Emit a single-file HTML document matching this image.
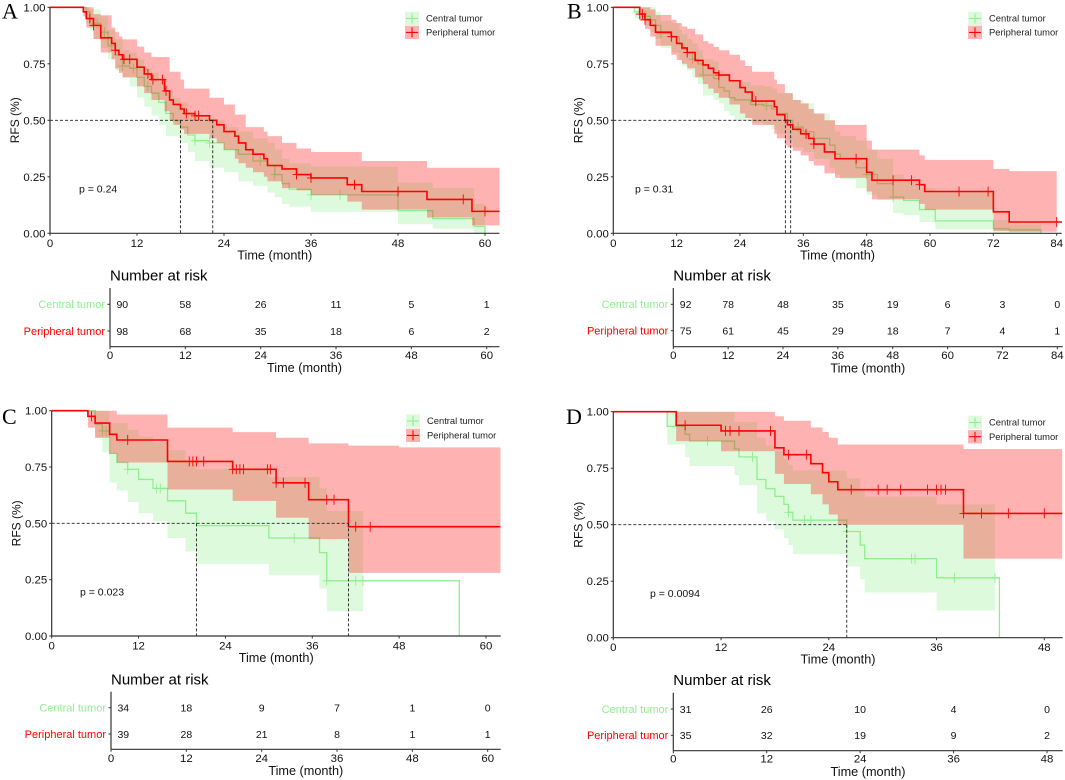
<!DOCTYPE html>
<html lang="en">
<head>
<meta charset="utf-8">
<title>Kaplan-Meier RFS curves</title>
<style>
html,body{margin:0;padding:0;background:#fff;width:1065px;height:780px;overflow:hidden}
svg{display:block;filter:blur(0.3px)}
text{font-family:"Liberation Sans",sans-serif}
</style>
</head>
<body>
<svg id="fig" xmlns="http://www.w3.org/2000/svg" width="1065" height="780" viewBox="0 0 1065 780"></svg>
<script>
// ---------- shared tick data ----------
const yTicks = [0, 0.25, 0.5, 0.75, 1];
const yTickLabels = ['0.00', '0.25', '0.50', '0.75', '1.00'];
const groupNames = ['Central tumor', 'Peripheral tumor'];

// ---------- panel A ----------
const aXTicks = [0, 12, 24, 36, 48, 60];
const aCentralTimes = [0,5,5.5,6,7,8,9,10,11,12,13,14,15,16,17,18,19,20,22,24,26,28,30,31,32,33,36,48,52.8,58.5,60];
const aCentralSurv = [1,.98,.95,.93,.89,.83,.79,.74,.73,.69,.65,.62,.58,.53,.50,.47,.435,.41,.40,.37,.35,.32,.30,.26,.22,.195,.17,.10,.065,.03,0];
const aCentralUpper = [1,1,.99,.99,.96,.90,.86,.81,.80,.77,.73,.71,.67,.63,.60,.58,.53,.51,.50,.47,.45,.42,.40,.37,.33,.31,.295,.225,.2,.13,0];
const aCentralLower = [1,.93,.90,.86,.82,.77,.72,.69,.65,.60,.56,.52,.48,.43,.43,.40,.36,.32,.29,.27,.23,.21,.18,.16,.13,.118,.095,.04,.02,0,0];
const aCentralCensor = [5.5,6.5,7.5,8.5,10,11.5,13.5,20,22,29,31,36,40];
const aPeriphTimes = [0,4.6,5,6,7,8.5,9,9.5,10,12,13,14,15.8,16.5,17,18,18.5,20,22,23,24,25.5,26,27,28,29.5,30,32,34,36,41,43,52,58.2];
const aPeriphSurv = [1,.98,.95,.92,.865,.84,.81,.79,.77,.735,.705,.68,.63,.59,.57,.55,.53,.52,.50,.48,.45,.43,.40,.37,.35,.33,.30,.285,.26,.245,.215,.185,.15,.097];
const aPeriphUpper = [1,1,1,.97,.965,.91,.89,.87,.858,.826,.80,.78,.78,.715,.715,.68,.64,.64,.60,.60,.57,.525,.525,.47,.47,.45,.43,.40,.375,.36,.36,.32,.29,.29];
const aPeriphLower = [1,.96,.91,.86,.80,.77,.73,.71,.69,.65,.62,.59,.54,.50,.48,.46,.44,.44,.42,.40,.37,.33,.31,.29,.27,.25,.23,.20,.19,.17,.14,.105,.07,.035];
const aPeriphCensor = [5.5,6,9,10.2,11,13.5,14.2,15.5,16,18.8,20,20.5,34,36,42,48,57,60];
const aMedians = [18, 22.45];
const aRiskCentral = [90, 58, 26, 11, 5, 1];
const aRiskPeriph = [98, 68, 35, 18, 6, 2];

// ---------- panel B ----------
const bXTicks = [0, 12, 24, 36, 48, 60, 72, 84];
const bCentralTimes = [0,4,5,6,7,8,9,11,12.5,13,14,15,16,17,19,20,21,22,23,26,28.5,30,31,33,34,36,38,41,42,43,46,48,50,53,55,58,61,72,75,81];
const bCentralSurv = [1,.98,.97,.96,.945,.92,.885,.87,.84,.815,.80,.77,.75,.70,.685,.645,.63,.60,.59,.57,.565,.55,.53,.50,.47,.45,.42,.39,.35,.33,.29,.26,.22,.16,.145,.105,.055,.02,.015,0];
const bCentralUpper = [1,1,1,1,1,.98,.94,.93,.90,.88,.86,.84,.81,.77,.76,.72,.71,.68,.67,.655,.65,.64,.62,.62,.59,.575,.53,.50,.45,.43,.41,.37,.33,.26,.24,.20,.185,.06,.04,0];
const bCentralLower = [1,.95,.94,.92,.89,.86,.82,.80,.77,.74,.72,.69,.66,.61,.59,.575,.54,.52,.50,.49,.48,.46,.44,.41,.38,.36,.33,.29,.26,.24,.2,.17,.147,.09,.08,.05,.018,0,0,0];
const bCentralCensor = [6,9,11,15,17,29,35,48,53];
const bPeriphTimes = [0,5,6,7,8,11,12,13,14,15.5,17,18,19,20,22,24,25,26.3,30.5,31,32.5,33,34,35.5,37,38,40,42,48,49,58,59,72,75];
const bPeriphSurv = [1,.97,.945,.92,.89,.87,.84,.82,.80,.765,.745,.73,.71,.70,.675,.645,.625,.585,.56,.525,.50,.48,.46,.44,.42,.395,.36,.33,.27,.235,.215,.185,.095,.05];
const bPeriphUpper = [1,1,1,.99,.966,.945,.93,.915,.905,.88,.85,.84,.825,.81,.79,.765,.74,.715,.68,.66,.62,.62,.59,.575,.55,.53,.5,.48,.41,.37,.345,.325,.285,.275];
const bPeriphLower = [1,.94,.905,.87,.83,.79,.767,.75,.73,.69,.66,.64,.62,.60,.57,.53,.51,.48,.44,.42,.39,.38,.365,.345,.32,.30,.265,.245,.185,.15,.13,.105,.01,.007];
const bPeriphCensor = [5,5.5,6,11,14,20,27,36.5,38,46,53,56.5,58,65.5,71,84];
const bMedians = [32.6, 33.6];
const bRiskCentral = [92, 78, 48, 35, 19, 6, 3, 0];
const bRiskPeriph = [75, 61, 45, 29, 18, 7, 4, 1];

// ---------- panel C ----------
const cXTicks = [0, 12, 24, 36, 48, 60];
const cCentralTimes = [0,6,7,8,9,10.5,12,14,16,18.5,20,30,37,38,56.3];
const cCentralSurv = [1,.94,.91,.81,.77,.74,.695,.655,.60,.545,.49,.435,.37,.245,0];
const cCentralUpper = [1,1,1,.945,.945,.915,.885,.86,.825,.775,.74,.705,.655,.555,0];
const cCentralLower = [1,.88,.815,.68,.645,.595,.545,.51,.435,.375,.32,.27,.21,.11,0];
const cCentralCensor = [7,7.5,10.5,14.5,15,33.5,38,42,43];
const cPeriphTimes = [0,5,6,8,9,16,25,31,35.5,41,48];
const cPeriphSurv = [1,.975,.945,.895,.87,.775,.74,.68,.605,.485,.485];
const cPeriphUpper = [1,1,1,1,.983,.925,.905,.88,.855,.845,.837];
const cPeriphLower = [1,.925,.88,.81,.77,.65,.60,.525,.43,.28,.28];
const cPeriphCensor = [5.5,10.5,19,19.5,20,21,25,25.5,26,26.5,29.8,30.2,31,32,35,38,39,42,44];
const cMedians = [20, 41];
const cRiskCentral = [34, 18, 9, 7, 1, 0];
const cRiskPeriph = [39, 28, 21, 8, 1, 1];

// ---------- panel D ----------
const dXTicks = [0, 12, 24, 36, 48];
const dCentralTimes = [0,6,8,8.5,13.5,14,16,17,18,19,19.5,20,26,27.5,28,36,43];
const dCentralSurv = [1,.935,.90,.87,.835,.80,.70,.66,.625,.59,.555,.52,.47,.41,.35,.265,0];
const dCentralUpper = [1,1,1,1,.955,.955,.885,.85,.825,.79,.765,.74,.705,.653,.624,.59,0];
const dCentralLower = [1,.855,.80,.76,.72,.675,.55,.515,.48,.44,.41,.37,.315,.26,.20,.12,0];
const dCentralCensor = [10.5,15.5,19.5,21.3,22,26,33.2,33.6,38,42.5];
const dPeriphTimes = [0,7,12,18,19,22,23.3,24,25,39];
const dPeriphSurv = [1,.94,.915,.84,.81,.77,.73,.69,.655,.55];
const dPeriphUpper = [1,1,1,.98,.96,.93,.91,.885,.855,.835];
const dPeriphLower = [1,.87,.825,.725,.68,.635,.59,.545,.50,.35];
const dPeriphCensor = [8,12.5,13,14,17.5,19.5,21.5,26.5,29.5,30.5,32,35,36,36.5,37,39,41,44,48];
const dMedians = [26];
const dRiskCentral = [31, 26, 10, 4, 0];
const dRiskPeriph = [35, 32, 19, 9, 2];

// ---------- layout + wiring ----------
const panels = [
 {id:'a', letter:'A', lx:2, ly:18.5, pvalue:'p = 0.24', px:79, py:192.5,
  plot:{x0:50, tickT:60, tickX:485, right:499.5, top:7.3, bottom:233.3, xMax:62},
  legend:{kx:405, tx:426, y1:11.7, y2:25.7},
  risk:{x0:110, tickX:486.7, right:499.5, top:288, bottom:346.7, r1:304.3, r2:331, title:280.7, tick:359, axisTitle:372, cx:304.5},
  xTicks:aXTicks, medians:aMedians, riskC:aRiskCentral, riskP:aRiskPeriph,
  c:{t:aCentralTimes,s:aCentralSurv,u:aCentralUpper,l:aCentralLower,m:aCentralCensor,end:60},
  p:{t:aPeriphTimes,s:aPeriphSurv,u:aPeriphUpper,l:aPeriphLower,m:aPeriphCensor,end:62}},
 {id:'b', letter:'B', lx:567, ly:18.5, pvalue:'p = 0.31', px:635, py:192.5,
  plot:{x0:613.3, tickT:84, tickX:1056.7, right:1061.7, top:7.3, bottom:233.3, xMax:85},
  legend:{kx:968, tx:989, y1:11.7, y2:25.7},
  risk:{x0:673.3, tickX:1057.3, right:1062.7, top:288, bottom:346.7, r1:304.3, r2:330.7, title:280.7, tick:359, axisTitle:372.3, cx:867.8},
  xTicks:bXTicks, medians:bMedians, riskC:bRiskCentral, riskP:bRiskPeriph,
  c:{t:bCentralTimes,s:bCentralSurv,u:bCentralUpper,l:bCentralLower,m:bCentralCensor,end:81},
  p:{t:bPeriphTimes,s:bPeriphSurv,u:bPeriphUpper,l:bPeriphLower,m:bPeriphCensor,end:84}},
 {id:'c', letter:'C', lx:2, ly:424, pvalue:'p = 0.023', px:80, py:595.5,
  plot:{x0:51.7, tickT:60, tickX:486, right:500.7, top:410.7, bottom:636, xMax:62},
  legend:{kx:406, tx:427, y1:414.3, y2:428.7},
  risk:{x0:111, tickX:487.7, right:500.7, top:691.7, bottom:749.3, r1:707.7, r2:734, title:684.3, tick:762, axisTitle:775, cx:305.8},
  xTicks:cXTicks, medians:cMedians, riskC:cRiskCentral, riskP:cRiskPeriph,
  c:{t:cCentralTimes,s:cCentralSurv,u:cCentralUpper,l:cCentralLower,m:cCentralCensor,end:43},
  p:{t:cPeriphTimes,s:cPeriphSurv,u:cPeriphUpper,l:cPeriphLower,m:cPeriphCensor,end:62}},
 {id:'d', letter:'D', lx:566, ly:424, pvalue:'p = 0.0094', px:650, py:597,
  plot:{x0:613.3, tickT:48, tickX:1044.3, right:1062.7, top:411.7, bottom:637.7, xMax:50},
  legend:{kx:968, tx:989, y1:415.7, y2:430},
  risk:{x0:673.3, tickX:1047, right:1062.7, top:692.7, bottom:750.7, r1:709, r2:735.3, title:685, tick:762.7, axisTitle:776, cx:868},
  xTicks:dXTicks, medians:dMedians, riskC:dRiskCentral, riskP:dRiskPeriph,
  c:{t:dCentralTimes,s:dCentralSurv,u:dCentralUpper,l:dCentralLower,m:dCentralCensor,end:42.5},
  p:{t:dPeriphTimes,s:dPeriphSurv,u:dPeriphUpper,l:dPeriphLower,m:dPeriphCensor,end:50}}
];

const GREEN = '#90ee90', RED = '#ff0000', AXIS = '#333333';
const NS = 'http://www.w3.org/2000/svg';
const fig = document.getElementById('fig');

function make(tag, geom, parent) {
  const node = document.createElementNS(NS, tag);
  for (const k in geom) node.setAttribute(k, geom[k]);
  parent.appendChild(node);
  return node;
}
function label(str, x, y, size, anchor, color, parent) {
  const node = make('text', {x:x, y:y, 'font-size':size, 'text-anchor':anchor, fill:color}, parent);
  node.textContent = str;
  return node;
}
function stepLine(series, xs, ys, xEnd) {
  let d = 'M' + xs(series.t[0]) + ' ' + ys(series.s[0]);
  for (let i = 1; i < series.t.length; i++) {
    d += 'H' + xs(series.t[i]) + 'V' + ys(series.s[i]);
  }
  if (series.s[series.s.length - 1] > 0) d += 'H' + xs(xEnd);
  return d;
}
function band(series, xs, ys) {
  const idx = series.t.map((v, i) => i).filter(i => series.t[i] < series.end);
  let d = 'M' + xs(0) + ' ' + ys(series.u[0]);
  idx.forEach((i, n) => {
    const next = n + 1 < idx.length ? series.t[idx[n + 1]] : series.end;
    d += 'V' + ys(series.u[i]) + 'H' + xs(next);
  });
  for (let n = idx.length - 1; n >= 0; n--) {
    const i = idx[n];
    d += 'V' + ys(series.l[i]) + 'H' + xs(series.t[i]);
  }
  return d + 'Z';
}
function survAt(series, time) {
  let v = series.s[0];
  for (let i = 0; i < series.t.length; i++) if (series.t[i] <= time) v = series.s[i];
  return v;
}

panels.forEach(function (p) {
  const g = make('g', {}, fig);
  
  

  const P = p.plot;
  const xs = t => P.x0 + t * (P.tickX - P.x0) / P.tickT;
  const ys = v => P.bottom - v * (P.bottom - P.top);

  // central band + line, then peripheral band + line (red layer sits over green)
  [['central', p.c, GREEN], ['peripheral', p.p, RED]].forEach(function (entry) {
    const key = entry[0], series = entry[1], color = entry[2];
    const ribbon = make('path', {d:band(series, xs, ys), fill:color, 'fill-opacity':0.3, stroke:'none'}, g);
    
    
    const line = make('path', {d:stepLine(series, xs, ys, P.xMax), fill:'none', stroke:color, 'stroke-width':key === 'central' ? 1.3 : 1.6}, g);
    
    
    series.m.forEach(function (time) {
      const cx = xs(time), cy = ys(survAt(series, time));
      const mark = make('path', {d:'M' + (cx - 4) + ' ' + cy + 'H' + (cx + 4) + 'M' + cx + ' ' + (cy - 5) + 'V' + (cy + 5), fill:'none', stroke:color, 'stroke-width':0.9}, g);
      
      
    });
  });

  // median reference lines
  const medianMax = Math.max.apply(null, p.medians);
  const hLine = make('line', {x1:P.x0, x2:xs(medianMax), y1:ys(0.5), y2:ys(0.5), stroke:'#222', 'stroke-width':0.9, 'stroke-dasharray':'3 2'}, g);
  
  
  p.medians.forEach(function (m) {
    const vLine = make('line', {x1:xs(m), x2:xs(m), y1:ys(0.5), y2:ys(0), stroke:'#222', 'stroke-width':0.9, 'stroke-dasharray':'3 2'}, g);
    
    
  });

  // axes
  const yAxis = make('line', {x1:P.x0, x2:P.x0, y1:P.top, y2:P.bottom, stroke:AXIS, 'stroke-width':1.2}, g);
  
  
  const xAxis = make('line', {x1:P.x0, x2:P.right, y1:P.bottom, y2:P.bottom, stroke:AXIS, 'stroke-width':1.2}, g);
  
  

  yTicks.forEach(function (v, i) {
    const tick = make('line', {x1:P.x0 - 2.5, x2:P.x0, y1:ys(v), y2:ys(v), stroke:AXIS, 'stroke-width':1}, g);
    
    
    const tl = label(yTickLabels[i], P.x0 - 4.5, ys(v) + 4, 11.4, 'end', '#111', g);
    
    
  });
  p.xTicks.forEach(function (t) {
    const tick = make('line', {x1:xs(t), x2:xs(t), y1:P.bottom, y2:P.bottom + 2.5, stroke:AXIS, 'stroke-width':1}, g);
    
    
    const tl = label(String(t), xs(t), P.bottom + 13.5, 11.4, 'middle', '#111', g);
    
    
  });

  const xTitle = label('Time (month)', (P.x0 + P.right) / 2, P.bottom + 26, 12.7, 'middle', '#111', g);
  
  
  const yCenter = (P.top + P.bottom) / 2;
  const yTitleX = P.x0 - 31;
  const yTitle = label('RFS (%)', yTitleX, yCenter, 12, 'middle', '#111', g);
  yTitle.setAttribute('transform', 'rotate(-90 ' + yTitleX + ' ' + yCenter + ')');
  
  

  const letter = make('text', {x:p.lx, y:p.ly, 'font-size':22, fill:'#000', style:'font-family:"Liberation Serif",serif'}, g);
  letter.textContent = p.letter;
  
  

  const pv = label(p.pvalue, p.px, p.py, 10.5, 'start', '#111', g);
  
  

  // legend
  const L = p.legend;
  [[GREEN, L.y1, groupNames[0]], [RED, L.y2, groupNames[1]]].forEach(function (row) {
    const color = row[0], ky = row[1], cy = ky + 6.7;
    const entry = make('g', {}, g);
    
    
    const swatch = make('rect', {x:L.kx, y:ky, width:14, height:13.4, fill:color, 'fill-opacity':0.3}, entry);
    
    
    const glyph = make('path', {d:'M' + (L.kx + 1) + ' ' + cy + 'H' + (L.kx + 13) + 'M' + (L.kx + 7) + ' ' + (cy - 5) + 'V' + (cy + 5), fill:'none', stroke:color, 'stroke-width':1.1}, entry);
    
    
    const txt = label(row[2], L.tx, cy + 3.2, 9.4, 'start', '#222', entry);
    
    
  });

  // risk table
  const R = p.risk;
  const rx = t => R.x0 + t * (R.tickX - R.x0) / p.plot.tickT;
  const table = make('g', {}, g);
  
  
  const rTitle = label('Number at risk', R.x0, R.title, 15, 'start', '#000', table);
  
  
  const rY = make('line', {x1:R.x0, x2:R.x0, y1:R.top, y2:R.bottom, stroke:AXIS, 'stroke-width':1.2}, table);
  
  
  const rX = make('line', {x1:R.x0, x2:R.right, y1:R.bottom, y2:R.bottom, stroke:AXIS, 'stroke-width':1.2}, table);
  
  

  [[groupNames[0], R.r1, '#90ee90', p.riskC, 'central'], [groupNames[1], R.r2, '#ff0000', p.riskP, 'peripheral']].forEach(function (row) {
    const rowLabel = label(row[0], R.x0 - 5, row[1] + 3.8, 11, 'end', row[2], table);
    
    
    const tick = make('line', {x1:R.x0 - 2.5, x2:R.x0, y1:row[1], y2:row[1], stroke:AXIS, 'stroke-width':1}, table);
    
    
    row[3].forEach(function (count, i) {
      const t = p.xTicks[i];
      const cx = t === 0 ? rx(0) + 12.3 : rx(t);
      const cell = label(String(count), cx, row[1] + 3.8, 10.5, 'middle', '#111', table);
      
      
    });
  });
  p.xTicks.forEach(function (t) {
    const tick = make('line', {x1:rx(t), x2:rx(t), y1:R.bottom, y2:R.bottom + 2.5, stroke:AXIS, 'stroke-width':1}, table);
    
    
    const tl = label(String(t), rx(t), R.tick, 11.4, 'middle', '#111', table);
    
    
  });
  const rTime = label('Time (month)', R.cx, R.axisTitle, 12.7, 'middle', '#111', table);
  
  
});
</script>
</body>
</html>
